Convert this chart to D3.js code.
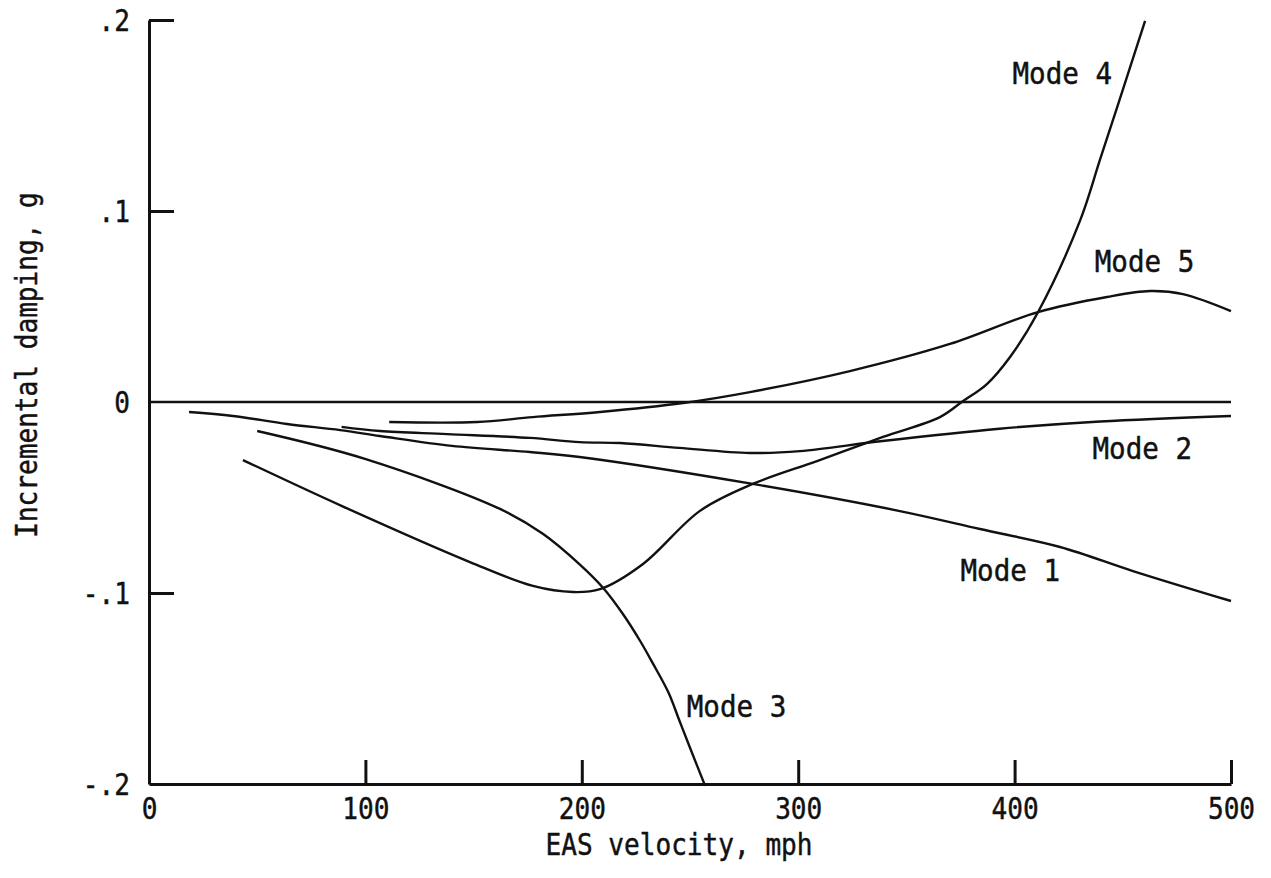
<!DOCTYPE html>
<html>
<head>
<meta charset="utf-8">
<script src="https://cdn.jsdelivr.net/npm/d3@7"></script>
<style>
  body { margin: 0; background: #fff; }
  text { font-family: "DejaVu Sans Mono", monospace; fill: #111; stroke: #111; stroke-width: 0.45px; }
</style>
</head>
<body>
<div id="chart"></div>
<script>
// velocity (mph), incremental damping g
const mode1 = [[18.5,-0.0052],[38.8,-0.0073],[63.8,-0.0115],[88.3,-0.0147],[106.7,-0.0178],[140,-0.023],[176,-0.0262],[199,-0.0288],[279,-0.0429],[347,-0.0571],[384,-0.0665],[421,-0.0759],[454.7,-0.0885],[500,-0.1042]]
const mode2 = [[89,-0.013],[106.7,-0.0152],[137.7,-0.0168],[176,-0.0188],[199,-0.021],[217.7,-0.0215],[245,-0.024],[277.7,-0.0267],[300.8,-0.0257],[339,-0.0204],[393,-0.014],[439.5,-0.0102],[500,-0.0073]]
const mode3 = [[50,-0.0152],[99.8,-0.0298],[162.2,-0.056],[182,-0.069],[199,-0.085],[210,-0.0975],[219,-0.111],[226.9,-0.125],[232.9,-0.137],[240,-0.152],[245,-0.1665],[250,-0.181],[257,-0.201]]
const mode4 = [[43.4,-0.0304],[89.2,-0.0545],[148.3,-0.0838],[177.4,-0.0963],[196,-0.0995],[208.4,-0.098],[228.3,-0.0848],[254.6,-0.057],[279,-0.0429],[308.7,-0.0309],[339.2,-0.0183],[365.5,-0.0079],[376.2,0.0005],[387.2,0.0094],[397.9,0.0236],[410.8,0.047],[430.2,0.0948],[439.5,0.127],[447.3,0.154],[460.3,0.1995]]
const mode5 = [[111,-0.0105],[151.6,-0.0105],[177.4,-0.0079],[208.4,-0.0052],[246.8,-0.0005],[277.7,0.0052],[323.9,0.0162],[370.1,0.0304],[410.8,0.0471],[442.7,0.055],[462.6,0.0581],[477.8,0.0565],[500,0.0476]]

const xTicks = [0, 100, 200, 300, 400, 500]
const yTicks = [0.2, 0.1, 0, -0.1, -0.2]
const yTickLabels = [".2", ".1", "0", "-.1", "-.2"]

// label anchor points in data units
const modeLabels = [
  { text: "Mode 1", v: 375, g: -0.0935 },
  { text: "Mode 2", v: 436, g: -0.0297 },
  { text: "Mode 3", v: 248.5, g: -0.165 },
  { text: "Mode 4", v: 399, g: 0.1665 },
  { text: "Mode 5", v: 437, g: 0.0680 }
]

const MARGIN = { LEFT: 149, RIGHT: 40, TOP: 20, BOTTOM: 94 }
const WIDTH = 1271 - MARGIN.LEFT - MARGIN.RIGHT
const HEIGHT = 878 - MARGIN.TOP - MARGIN.BOTTOM
const FONT = 30
const SQUEEZE = 0.87   // the typewriter face is narrower than DejaVu Mono

const svg = d3.select("#chart")
  .append("svg")
  .attr("width", 1271)
  .attr("height", 878)

const g = svg.append("g")
  .attr("transform", `translate(${MARGIN.LEFT}, ${MARGIN.TOP})`)

const x = d3.scaleLinear().domain([0, 500]).range([0, WIDTH])
const y = d3.scaleLinear().domain([-0.2, 0.2]).range([HEIGHT, 0])

// X axis, ticks pointing up into the plot
const xAxisCall = d3.axisBottom(x)
  .tickValues(xTicks)
  .tickSizeInner(-24)
  .tickSizeOuter(0)
  .tickPadding(12)
const xAxis = g.append("g")
  .attr("class", "x axis")
  .attr("transform", `translate(0, ${HEIGHT})`)
  .call(xAxisCall)
xAxis.select(".domain").attr("stroke-width", 3).attr("stroke", "#111")
xAxis.selectAll(".tick line").attr("stroke-width", 3).attr("stroke", "#111")
xAxis.selectAll(".tick text")
  .attr("font-size", FONT + "px")
  .attr("font-family", "DejaVu Sans Mono")
  .attr("fill", "#111")
  .attr("y", 35)
  .attr("dy", 0)
  .attr("transform", `scale(${SQUEEZE},1)`)

// Y axis, ticks pointing right
const yAxisCall = d3.axisLeft(y)
  .tickValues(yTicks.filter(d => d !== 0 && d !== -0.2))
  .tickSizeInner(-25)
  .tickSizeOuter(0)
  .tickFormat("")
const yAxis = g.append("g")
  .attr("class", "y axis")
  .call(yAxisCall)
yAxis.select(".domain").attr("stroke-width", 3).attr("stroke", "#111")
yAxis.selectAll(".tick line").attr("stroke-width", 3).attr("stroke", "#111")

g.selectAll(".ylab")
  .data(yTicks)
  .enter().append("text")
  .attr("class", "ylab")
  .attr("transform", d => `translate(-19, ${y(d)}) scale(${SQUEEZE},1)`)
  .attr("dy", "0.36em")
  .attr("text-anchor", "end")
  .attr("font-size", FONT + "px")
  .text((d, i) => yTickLabels[i])

// zero line
g.append("line")
  .attr("x1", x(0)).attr("x2", x(500))
  .attr("y1", y(0)).attr("y2", y(0))
  .attr("stroke", "#111")
  .attr("stroke-width", 2.4)

// curves
const line = d3.line()
  .x(d => x(d[0]))
  .y(d => y(d[1]))
  .curve(d3.curveCatmullRom.alpha(0.5))

const modes = [mode1, mode2, mode3, mode4, mode5]
g.selectAll(".mode")
  .data(modes)
  .enter().append("path")
  .attr("class", "mode")
  .attr("d", line)
  .attr("fill", "none")
  .attr("stroke", "#111")
  .attr("stroke-width", 2.4)

// mode labels
g.selectAll(".mlab")
  .data(modeLabels)
  .enter().append("text")
  .attr("class", "mlab")
  .attr("transform", d => `translate(${x(d.v)}, ${y(d.g)}) scale(0.92,1)`)
  .attr("font-size", FONT + "px")
  .text(d => d.text)

// X label
g.append("text")
  .attr("transform", `translate(${679 - MARGIN.LEFT}, ${HEIGHT + 71}) scale(${SQUEEZE},1)`)
  .attr("font-size", FONT + "px")
  .attr("text-anchor", "middle")
  .text("EAS velocity, mph")

// Y label
g.append("text")
  .attr("transform", `translate(-112, ${365 - MARGIN.TOP}) rotate(-90) scale(${SQUEEZE},1)`)
  .attr("font-size", FONT + "px")
  .attr("text-anchor", "middle")
  .text("Incremental damping, g")
</script>
</body>
</html>
